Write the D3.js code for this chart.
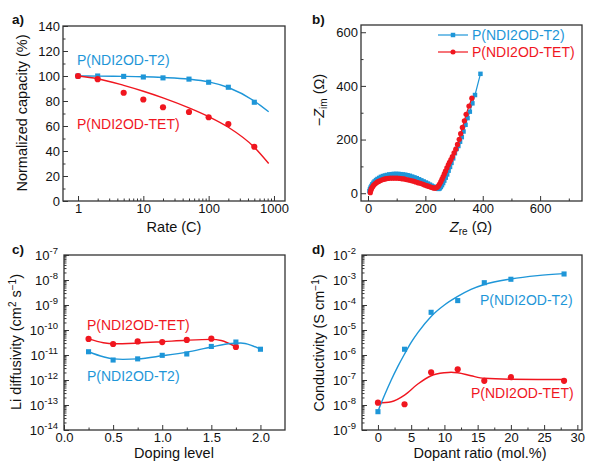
<!DOCTYPE html>
<meta charset="utf-8">
<style>
body { margin: 0; background: #fff; }
svg { font-family: "Liberation Sans", Arial, sans-serif; }
.tick text { font-size: 13px; fill: #111; }
.tick line { stroke: #333; }
.ttl { font-size: 14.5px; fill: #111; }
.lbl { font-size: 14px; }
.plab { font-size: 13.5px; font-weight: bold; }
</style>
<body>
<script src="https://d3js.org/d3.v7.min.js"></script>
<script>
// ---- data ----
// a) rate capability
const rate = [1, 2, 5, 10, 20, 50, 100, 200, 500];
const capT2 = [100, 100, 99.7, 99.2, 98.5, 97.5, 95, 91, 79];
const capTET = [100, 97.5, 86.6, 81.2, 75, 71.2, 67, 61.6, 43.4];
const rateFit = [1, 2, 5, 10, 20, 50, 100, 200, 500, 830];
const capT2Fit = [100, 99.9, 99.7, 99.4, 98.8, 97.5, 95.3, 90.8, 80, 71.4];
const capTETFit = [100, 97.8, 92.5, 87.8, 82.5, 74.5, 67.5, 59, 43, 30];

// b) Nyquist
const zReT2 = [5,7,9,12,15,19,23,28,33,39,45,52,59,66,74,82,90,98,106,114,122,130,138,146,154,162,170,178,186,194,202,209,216,222,228,233,238,242,246,250,254,258,262,266,271,276,281,286,291,297,303,309,315,321,327,333,340,347,355,364,373,392];
const zImT2 = [8,15,21,27,33,39,44,49,53,57,61,64,66,68,70,71,72,72,72,71,70,69,67,65,62,59,56,52,48,44,40,36,32,28,25,22,19,17,16,18,23,30,38,47,58,70,84,98,113,130,149,165,176,192,209,230,255,280,304,335,366,445];
const zReTET = [8,9,11,13,16,19,23,27,32,37,43,49,56,63,70,78,86,94,102,110,118,126,134,142,150,158,166,174,182,190,197,204,210,216,221,226,230,234,238,242,246,250,254,258,262,266,270,275,280,284,289,294,300,306,312,318,323,329,336,342,352,362];
const zImTET = [2,8,14,19,24,29,33,37,41,44,47,50,52,54,55,56,56,56,56,55,54,53,51,49,47,45,42,39,37,34,31,28,26,24,22,20,19,19,20,23,28,35,43,52,62,72,82,94,106,115,125,136,150,164,182,201,222,245,270,294,325,354];

// c) Li diffusivity
const dopT2 = [0.25, 0.5, 0.75, 1.0, 1.25, 1.5, 1.75, 2.0];
const diffT2 = [1.35e-11, 6.3e-12, 7e-12, 9.7e-12, 1.1e-11, 2.2e-11, 3.3e-11, 1.7e-11];
const dopTET = [0.25, 0.5, 0.75, 1.0, 1.25, 1.5, 1.75];
const diffTET = [4.4e-11, 2.75e-11, 3.5e-11, 3.3e-11, 4e-11, 4.5e-11, 2.1e-11];
const dopT2Fit = [0.25, 0.4, 0.5, 0.6, 0.75, 1.0, 1.25, 1.5, 1.7, 1.8, 1.9, 2.0];
const diffT2Fit = [1.35e-11, 8.5e-12, 7e-12, 6.7e-12, 7e-12, 9.3e-12, 1.3e-11, 2.1e-11, 2.9e-11, 3e-11, 2.5e-11, 1.7e-11];
const dopTETFit = [0.25, 0.4, 0.5, 0.75, 1.0, 1.25, 1.5, 1.6, 1.75];
const diffTETFit = [4.4e-11, 3.1e-11, 2.8e-11, 3.0e-11, 3.4e-11, 3.9e-11, 4.2e-11, 3.8e-11, 2.1e-11];

// d) conductivity
const ratio = [0, 4, 8, 12, 16, 20, 28];
const condT2 = [5.4e-9, 1.7e-6, 5.1e-5, 1.5e-4, 7.8e-4, 1.07e-3, 1.74e-3];
const condTET = [1.24e-8, 1.07e-8, 2.04e-7, 2.7e-7, 9.3e-8, 1.3e-7, 9.3e-8];
const ratioT2Fit = [0, 1, 2, 3, 4, 5, 6, 8, 10, 12, 14, 16, 20, 24, 28];
const condT2Fit = [5.6e-9, 2.5e-8, 1e-7, 3.5e-7, 1.1e-6, 3.2e-6, 7.9e-6, 3.5e-5, 1e-4, 2.2e-4, 4.2e-4, 6.6e-4, 1.1e-3, 1.5e-3, 1.8e-3];
const ratioTETFit = [0, 2, 4, 6, 8, 10, 11, 12, 14, 16, 20, 24, 28];
const condTETFit = [1.2e-8, 1.35e-8, 2.5e-8, 6.9e-8, 1.48e-7, 1.95e-7, 2.05e-7, 1.95e-7, 1.48e-7, 1.17e-7, 1.07e-7, 1.05e-7, 1.05e-7];

const blue = "#1e96d8", red = "#f0161f";

const svg = d3.select("body").append("svg")
    .attr("width", 590)
    .attr("height", 461);

// ---- helpers ----
function supFmt(sel) {
  sel.selectAll(".tick text").each(function(d) {
    const t = d3.select(this);
    t.text("10");
    t.append("tspan").attr("dy", "-0.55em").attr("font-size", "9.5px")
      .text(Math.round(Math.log10(d)));
  });
}

function axes(x, y, o) {
  const g = svg.append("g");
  const [x0, x1] = x.range(), [y0, y1] = y.range();
  g.append("g").attr("transform", `translate(0,${y0})`)
      .call(d3.axisBottom(x).tickValues(o.xMajor).tickSize(-5).tickPadding(3).tickFormat(o.xFmt));
  g.append("g").attr("transform", `translate(0,${y0})`)
      .call(d3.axisBottom(x).tickValues(o.xMinor).tickSize(-2.5).tickFormat(""));
  const by = g.append("g").attr("transform", `translate(${x0},0)`)
      .call(d3.axisLeft(y).tickValues(o.yMajor).tickSize(-5).tickPadding(o.yPad || 3).tickFormat(o.yFmt));
  g.append("g").attr("transform", `translate(${x0},0)`)
      .call(d3.axisLeft(y).tickValues(o.yMinor).tickSize(-2.5).tickFormat(""));
  if (o.ySup) supFmt(by);
  g.selectAll(".domain").remove();
  g.append("rect")
      .attr("x", x0).attr("y", y1)
      .attr("width", x1 - x0).attr("height", y0 - y1)
      .attr("fill", "none").attr("stroke", "#333").attr("stroke-width", 1.3);
  return g;
}

function fit(xs, ys, x, y, color) {
  svg.append("path")
      .datum(xs.map((v, i) => [v, ys[i]]))
      .attr("fill", "none").attr("stroke", color).attr("stroke-width", 1.4)
      .attr("d", d3.line().x(d => x(d[0])).y(d => y(d[1])).curve(d3.curveMonotoneX));
}

function pts(xs, ys, x, y, color, shape, size) {
  const sym = d3.symbol().type(shape === "sq" ? d3.symbolSquare : d3.symbolCircle).size(size);
  svg.append("g").selectAll("path")
    .data(xs.map((v, i) => [v, ys[i]]))
    .join("path")
      .attr("d", sym)
      .attr("transform", d => `translate(${x(d[0])},${y(d[1])})`)
      .attr("fill", color);
}

function text(x, y, s, cls, color, anchor) {
  return svg.append("text").attr("x", x).attr("y", y).attr("class", cls)
      .attr("fill", color || "#111").attr("text-anchor", anchor || "start").text(s);
}

function ytitle(cx, cy, s) {
  return svg.append("text").attr("class", "ttl").attr("text-anchor", "middle")
      .attr("transform", `translate(${cx},${cy}) rotate(-90)`).text(s);
}

// ---- a) ----
const xa = d3.scaleLog().domain([0.589, 1475]).range([63, 285]);
const ya = d3.scaleLinear().domain([0, 140]).range([201, 26]);
const minorA = [];
[1, 10, 100].forEach(p => { for (let k = 2; k <= 9; k++) minorA.push(p * k); });
axes(xa, ya, {
  xMajor: [1, 10, 100, 1000], xMinor: minorA, xFmt: d3.format("d"),
  yMajor: d3.range(0, 141, 20), yMinor: d3.range(10, 140, 20), yFmt: d3.format("d")
});
fit(rateFit, capT2Fit, xa, ya, blue);
fit(rateFit, capTETFit, xa, ya, red);
pts(rate, capT2, xa, ya, blue, "sq", 26);
pts(rate, capTET, xa, ya, red, "ci", 30);
text(77, 65, "P(NDI2OD-T2)", "lbl", blue);
text(77, 129, "P(NDI2OD-TET)", "lbl", red);
text(174, 232, "Rate (C)", "ttl", "#111", "middle");
ytitle(27, 113, "Normalized capacity (%)");
text(12, 24, "a)", "plab");

// ---- b) ----
const xb = d3.scaleLinear().domain([-24.4, 746]).range([361, 582]);
const yb = d3.scaleLinear().domain([-29, 627]).range([201, 25]);
axes(xb, yb, {
  xMajor: [0, 200, 400, 600], xMinor: [100, 300, 500, 700], xFmt: d3.format("d"),
  yMajor: [0, 200, 400, 600], yMinor: [100, 300, 500], yFmt: d3.format("d")
});
const lineB = d3.line().x(d => xb(d[0])).y(d => yb(d[1]));
svg.append("path").datum(zReT2.map((v, i) => [v, zImT2[i]]))
    .attr("fill", "none").attr("stroke", blue).attr("stroke-width", 1.2).attr("d", lineB);
pts(zReT2, zImT2, xb, yb, blue, "sq", 20);
svg.append("path").datum(zReTET.map((v, i) => [v, zImTET[i]]))
    .attr("fill", "none").attr("stroke", red).attr("stroke-width", 1.2).attr("d", lineB);
pts(zReTET, zImTET, xb, yb, red, "ci", 22);
// legend
[[blue, "sq", "P(NDI2OD-T2)", 35], [red, "ci", "P(NDI2OD-TET)", 52]].forEach(([c, s, t, yy]) => {
  svg.append("line").attr("x1", 438).attr("x2", 468).attr("y1", yy).attr("y2", yy)
      .attr("stroke", c).attr("stroke-width", 1.2);
  svg.append("path").attr("d", d3.symbol().type(s === "sq" ? d3.symbolSquare : d3.symbolCircle).size(20))
      .attr("transform", `translate(453,${yy})`).attr("fill", c);
  text(472, yy + 5, t, "lbl", c);
});
const xtB = text(471, 232, "", "ttl", "#111", "middle");
xtB.append("tspan").attr("font-style", "italic").text("Z");
xtB.append("tspan").attr("font-size", "10px").attr("dy", "3").text("re");
xtB.append("tspan").attr("dy", "-3").text(" (Ω)");
const ytB = ytitle(324, 100, "");
ytB.append("tspan").text("−");
ytB.append("tspan").attr("font-style", "italic").text("Z");
ytB.append("tspan").attr("font-size", "10px").attr("dy", "3").text("im");
ytB.append("tspan").attr("dy", "-3").text(" (Ω)");
text(312, 24, "b)", "plab");

// ---- c) ----
const xc = d3.scaleLinear().domain([0, 2.25]).range([64, 285]);
const yc = d3.scaleLog().domain([1e-14, 1e-7]).range([430, 255]);
const minorLog = (lo, hi) => {
  const m = [];
  for (let e = lo; e < hi; e++) for (let k = 2; k <= 9; k++) m.push(k * Math.pow(10, e));
  return m;
};
axes(xc, yc, {
  xMajor: [0, 0.5, 1.0, 1.5, 2.0], xMinor: [0.25, 0.75, 1.25, 1.75], xFmt: d3.format(".1f"),
  yMajor: d3.range(-14, -6).map(e => Math.pow(10, e)), yMinor: minorLog(-14, -7), yPad: 6, ySup: true
});
fit(dopTETFit, diffTETFit, xc, yc, red);
fit(dopT2Fit, diffT2Fit, xc, yc, blue);
pts(dopTET, diffTET, xc, yc, red, "ci", 30);
pts(dopT2, diffT2, xc, yc, blue, "sq", 26);
text(87, 330, "P(NDI2OD-TET)", "lbl", red);
text(87, 381, "P(NDI2OD-T2)", "lbl", blue);
text(174, 458, "Doping level", "ttl", "#111", "middle");
const ytC = ytitle(21, 342, "Li diffusivity (cm");
ytC.append("tspan").attr("font-size", "10px").attr("dy", "-5").text("2");
ytC.append("tspan").attr("dy", "5").text(" s");
ytC.append("tspan").attr("font-size", "10px").attr("dy", "-5").text("−1");
ytC.append("tspan").attr("dy", "5").text(")");
text(12, 254, "c)", "plab");

// ---- d) ----
const xd = d3.scaleLinear().domain([-2.4, 30.7]).range([362, 582]);
const yd = d3.scaleLog().domain([1e-9, 1e-2]).range([430, 255]);
axes(xd, yd, {
  xMajor: [0, 5, 10, 15, 20, 25, 30], xMinor: [2.5, 7.5, 12.5, 17.5, 22.5, 27.5], xFmt: d3.format("d"),
  yMajor: d3.range(-9, -1).map(e => Math.pow(10, e)), yMinor: minorLog(-9, -2), yPad: 6, ySup: true
});
fit(ratioTETFit, condTETFit, xd, yd, red);
fit(ratioT2Fit, condT2Fit, xd, yd, blue);
pts(ratio, condTET, xd, yd, red, "ci", 30);
pts(ratio, condT2, xd, yd, blue, "sq", 26);
text(480, 305, "P(NDI2OD-T2)", "lbl", blue);
text(471, 398, "P(NDI2OD-TET)", "lbl", red);
text(480, 458, "Dopant ratio (mol.%)", "ttl", "#111", "middle");
const ytD = ytitle(324, 343, "Conductivity (S cm");
ytD.append("tspan").attr("font-size", "10px").attr("dy", "-5").text("−1");
ytD.append("tspan").attr("dy", "5").text(")");
text(312, 254, "d)", "plab");
</script>
